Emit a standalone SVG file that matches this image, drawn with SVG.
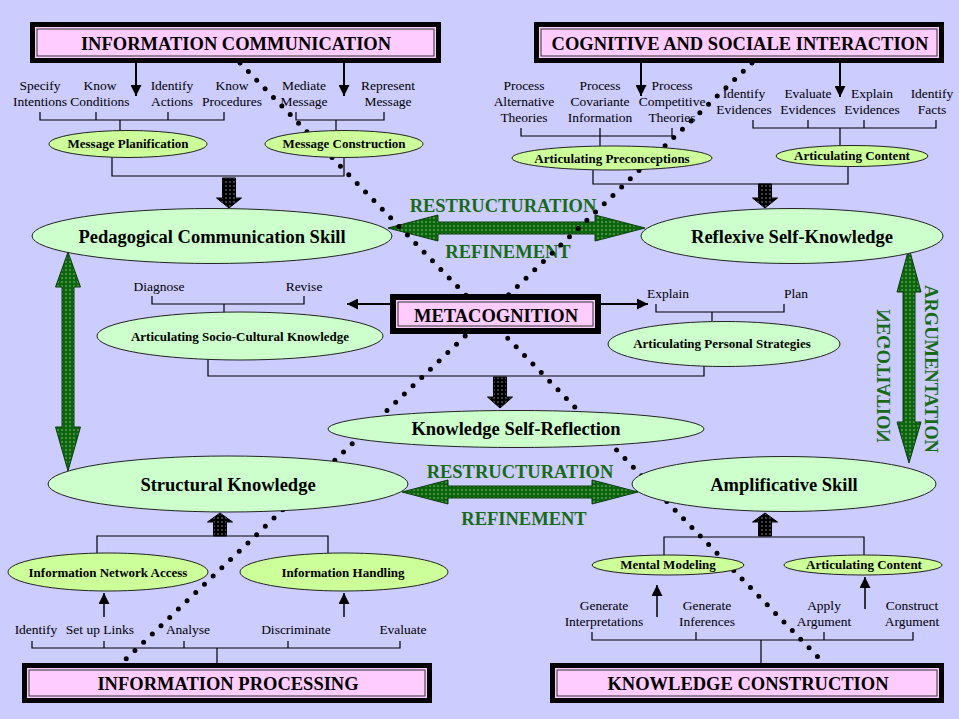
<svg xmlns="http://www.w3.org/2000/svg" width="959" height="719" viewBox="0 0 959 719">
<defs>
<pattern id="gdots" width="4" height="4" patternUnits="userSpaceOnUse">
<rect width="4" height="4" fill="#0b650b"/>
<rect x="1.5" y="1.5" width="1" height="1" fill="#ffffff"/>
</pattern>
<pattern id="kdots" width="4" height="4" patternUnits="userSpaceOnUse">
<rect width="4" height="4" fill="#000000"/>
<rect x="1.5" y="1.5" width="1" height="1" fill="#ffffff"/>
</pattern>
<marker id="ah" viewBox="0 0 10 10" refX="10" refY="5" markerWidth="11" markerHeight="11" markerUnits="userSpaceOnUse" orient="auto">
<path d="M0,0 L10,5 L0,10 z" fill="#000"/>
</marker>
<style>
.t{font-family:"Liberation Serif","Times New Roman",serif;font-size:13.5px;fill:#000;text-anchor:middle}
.nb{font-family:"Liberation Serif","Times New Roman",serif;font-size:13px;font-weight:bold;fill:#000;text-anchor:middle}
.big{font-family:"Liberation Serif","Times New Roman",serif;font-size:18.5px;font-weight:bold;fill:#000;text-anchor:middle}
.gr{font-family:"Liberation Serif","Times New Roman",serif;font-size:18.5px;font-weight:bold;fill:#176b17;text-anchor:middle}
.br{fill:none;stroke:#000;stroke-width:1.2}
.thin{fill:none;stroke:#000;stroke-width:2;marker-end:url(#ah)}
.garrow{fill:url(#gdots);stroke:#0a3d0a;stroke-width:1}
.karrow{fill:url(#kdots);stroke:#000;stroke-width:1}
.dots{fill:none;stroke:#000;stroke-width:5;stroke-linecap:round;stroke-dasharray:0 12}
.mint{fill:#ccffcc;stroke:#222;stroke-width:1}
.lime{fill:#ccff99;stroke:#222;stroke-width:1}
.frame{fill:#000}
.pink{fill:#ffccff}
.pline{fill:none;stroke:#333;stroke-width:1}
</style>
</defs>
<rect width="959" height="719" fill="#ccccff"/>

<g id="connectors">
<path class="br" d="M40,112 V120 H224 V112 M96,112 V120 M168,112 V120 M120,120 V131"/>
<path class="br" d="M296,112 V120 H384 V112 M336,120 V131"/>
<path class="br" d="M112,157 V176 H344 V157"/>
<path class="br" d="M521,128 V136 H672 V128 M600,128 V146"/>
<path class="br" d="M753,120 V128 H936 V120 M808,120 V128 M864,120 V128 M840,128 V146"/>
<path class="br" d="M593,169 V184 H848 V166"/>
<path class="br" d="M152,296 V304 H304 V296 M224,304 V313"/>
<path class="br" d="M656,304 V312 H784 V304 M712,312 V321"/>
<path class="br" d="M208,359 V376 H704 V366"/>
<path class="br" d="M97,553 V536 H328 V553"/>
<path class="br" d="M32,641 V648 H400 V641 M104,641 V648 M184,641 V648 M288,641 V648 M217,648 V663"/>
<path class="br" d="M664,556 V537 H864 V556"/>
<path class="br" d="M592,632 V640 H913 V632 M696,632 V640 M824,632 V640 M761,640 V663"/>
<line class="thin" x1="136" y1="63" x2="136" y2="96"/>
<line class="thin" x1="344" y1="63" x2="344" y2="96"/>
<line class="thin" x1="641" y1="63" x2="641" y2="96"/>
<line class="thin" x1="840" y1="63" x2="840" y2="97"/>
<line class="thin" x1="390" y1="304" x2="347" y2="304"/>
<line class="thin" x1="601" y1="304" x2="648" y2="304"/>
<line class="thin" x1="104" y1="617" x2="104" y2="593" style="stroke-width:1.5"/>
<line class="thin" x1="344" y1="617" x2="344" y2="593" style="stroke-width:1.5"/>
<line class="thin" x1="657" y1="617" x2="657" y2="585" style="stroke-width:1.5"/>
<line class="thin" x1="865" y1="609" x2="865" y2="577" style="stroke-width:1.5"/>
<polygon class="karrow" points="222.5,178 235.5,178 235.5,198 241.5,198 229,208 216.5,198 222.5,198"/>
<polygon class="karrow" points="758.5,184 771.5,184 771.5,198 777.5,198 765,208 752.5,198 758.5,198"/>
<polygon class="karrow" points="493.5,377 506.5,377 506.5,397 512.5,397 500,408 487.5,397 493.5,397"/>
<polygon class="karrow" points="213.5,536 226.5,536 226.5,522 232.5,522 220,513 207.5,522 213.5,522"/>
<polygon class="karrow" points="758.5,536 771.5,536 771.5,522 777.5,522 765,513 752.5,522 758.5,522"/>
<polygon class="garrow" points="388,228 438,215 438,222 595,222 595,215 645,228 595,241 595,234 438,234 438,241"/>
<polygon class="garrow" points="402,492 448,480 448,486 592,486 592,480 638,492 592,504 592,498 448,498 448,504"/>
<polygon class="garrow" points="68,252 80.5,287 74,287 74,427 80.5,427 68,471 55.5,427 62,427 62,287 55.5,287"/>
<polygon class="garrow" points="909,248 921,292 915,292 915,422 921,422 909,463 897,422 903,422 903,292 897,292"/>
</g>

<g id="labels">
<text class="t" x="40" y="90">Specify</text><text class="t" x="40" y="106">Intentions</text>
<text class="t" x="100" y="90">Know</text><text class="t" x="100" y="106">Conditions</text>
<text class="t" x="172" y="90">Identify</text><text class="t" x="172" y="106">Actions</text>
<text class="t" x="232" y="90">Know</text><text class="t" x="232" y="106">Procedures</text>
<text class="t" x="304" y="90">Mediate</text><text class="t" x="304" y="106">Message</text>
<text class="t" x="388" y="90">Represent</text><text class="t" x="388" y="106">Message</text>
<text class="t" x="524" y="90">Process</text><text class="t" x="524" y="106">Alternative</text><text class="t" x="524" y="122">Theories</text>
<text class="t" x="600" y="90">Process</text><text class="t" x="600" y="106">Covariante</text><text class="t" x="600" y="122">Information</text>
<text class="t" x="672" y="90">Process</text><text class="t" x="672" y="106">Competitive</text><text class="t" x="672" y="122">Theories</text>
<text class="t" x="744" y="98">Identify</text><text class="t" x="744" y="114">Evidences</text>
<text class="t" x="808" y="98">Evaluate</text><text class="t" x="808" y="114">Evidences</text>
<text class="t" x="872" y="98">Explain</text><text class="t" x="872" y="114">Evidences</text>
<text class="t" x="932" y="98">Identify</text><text class="t" x="932" y="114">Facts</text>
<text class="t" x="159" y="291">Diagnose</text><text class="t" x="304" y="291">Revise</text>
<text class="t" x="668" y="298">Explain</text><text class="t" x="796" y="298">Plan</text>
<text class="t" x="36" y="634">Identify</text>
<text class="t" x="100" y="634">Set up Links</text>
<text class="t" x="188" y="634">Analyse</text>
<text class="t" x="296" y="634">Discriminate</text>
<text class="t" x="403" y="634">Evaluate</text>
<text class="t" x="604" y="610">Generate</text><text class="t" x="604" y="626">Interpretations</text>
<text class="t" x="707" y="610">Generate</text><text class="t" x="707" y="626">Inferences</text>
<text class="t" x="824" y="610">Apply</text><text class="t" x="824" y="626">Argument</text>
<text class="t" x="912" y="610">Construct</text><text class="t" x="912" y="626">Argument</text>
<text class="gr" x="503" y="212">RESTRUCTURATION</text>
<text class="gr" x="508" y="258">REFINEMENT</text>
<text class="gr" x="520" y="478">RESTRUCTURATION</text>
<text class="gr" x="524" y="525">REFINEMENT</text>
<text class="gr" transform="translate(925,369) rotate(90)">ARGUMENTATION</text>
<text class="gr" transform="translate(890,376) rotate(90) scale(1,-1)">NEGOTIATION</text>
</g>

<g id="dotted-lines">
<path class="dots" d="M240,63 L818,657"/>
<path class="dots" d="M752,63 L126,659"/>
</g>

<g id="information-communication">
<rect class="frame" x="30" y="22" width="411" height="41"/>
<rect class="pink" x="35" y="27" width="401" height="31"/>
<rect class="pline" x="37" y="29" width="397" height="27"/>
<text class="big" x="236" y="50">INFORMATION COMMUNICATION</text>
</g>
<g id="cognitive-social-interaction">
<rect class="frame" x="534" y="22" width="410" height="41"/>
<rect class="pink" x="539" y="27" width="400" height="31"/>
<rect class="pline" x="541" y="29" width="396" height="27"/>
<text class="big" x="740" y="50">COGNITIVE AND SOCIALE INTERACTION</text>
</g>
<g id="metacognition">
<rect class="frame" x="390" y="294" width="211" height="40"/>
<rect class="pink" x="396" y="300" width="199" height="28"/>
<rect class="pline" x="398" y="302" width="195" height="24"/>
<text class="big" x="496" y="322">METACOGNITION</text>
</g>
<g id="information-processing">
<rect class="frame" x="22" y="663" width="410" height="40"/>
<rect class="pink" x="27" y="668" width="400" height="30"/>
<rect class="pline" x="29" y="670" width="396" height="26"/>
<text class="big" x="228" y="690">INFORMATION PROCESSING</text>
</g>
<g id="knowledge-construction">
<rect class="frame" x="550" y="663" width="394" height="40"/>
<rect class="pink" x="555" y="668" width="384" height="30"/>
<rect class="pline" x="557" y="670" width="380" height="26"/>
<text class="big" x="748" y="690">KNOWLEDGE CONSTRUCTION</text>
</g>

<g id="message-planification"><ellipse class="lime" cx="128" cy="144" rx="79" ry="13.5"/><text class="nb" x="128" y="148">Message Planification</text></g>
<g id="message-construction"><ellipse class="lime" cx="344" cy="144" rx="79" ry="13.5"/><text class="nb" x="344" y="148">Message Construction</text></g>
<g id="articulating-preconceptions"><ellipse class="lime" cx="612" cy="158" rx="100" ry="12"/><text class="nb" x="612" y="163">Articulating Preconceptions</text></g>
<g id="articulating-content-top"><ellipse class="lime" cx="852" cy="156" rx="76" ry="10.5"/><text class="nb" x="852" y="160">Articulating Content</text></g>
<g id="pedagogical-communication-skill"><ellipse class="mint" cx="212" cy="236" rx="180" ry="27.5"/><text class="big" x="212" y="243">Pedagogical Communication Skill</text></g>
<g id="reflexive-self-knowledge"><ellipse class="mint" cx="792" cy="236" rx="151" ry="27.5"/><text class="big" x="792" y="243">Reflexive Self-Knowledge</text></g>
<g id="articulating-socio-cultural-knowledge"><ellipse class="mint" cx="240" cy="336" rx="143" ry="24"/><text class="nb" x="240" y="341">Articulating Socio-Cultural Knowledge</text></g>
<g id="articulating-personal-strategies"><ellipse class="mint" cx="724" cy="344" rx="116" ry="22.5"/><text class="nb" x="722" y="348">Articulating Personal Strategies</text></g>
<g id="knowledge-self-reflection"><ellipse class="mint" cx="516" cy="429" rx="188" ry="18.5"/><text class="big" x="516" y="435">Knowledge Self-Reflection</text></g>
<g id="structural-knowledge"><ellipse class="mint" cx="228" cy="484" rx="180" ry="28"/><text class="big" x="228" y="491">Structural Knowledge</text></g>
<g id="amplificative-skill"><ellipse class="mint" cx="784" cy="484" rx="152" ry="27.5"/><text class="big" x="784" y="491">Amplificative Skill</text></g>
<g id="information-network-access"><ellipse class="lime" cx="108" cy="572" rx="100" ry="19"/><text class="nb" x="108" y="577">Information Network Access</text></g>
<g id="information-handling"><ellipse class="lime" cx="344" cy="572" rx="104" ry="19"/><text class="nb" x="343" y="577">Information Handling</text></g>
<g id="mental-modeling"><ellipse class="lime" cx="668" cy="565" rx="76" ry="10"/><text class="nb" x="668" y="569">Mental Modeling</text></g>
<g id="articulating-content-bottom"><ellipse class="lime" cx="863" cy="565" rx="79" ry="10"/><text class="nb" x="864" y="569">Articulating Content</text></g>
</svg>
